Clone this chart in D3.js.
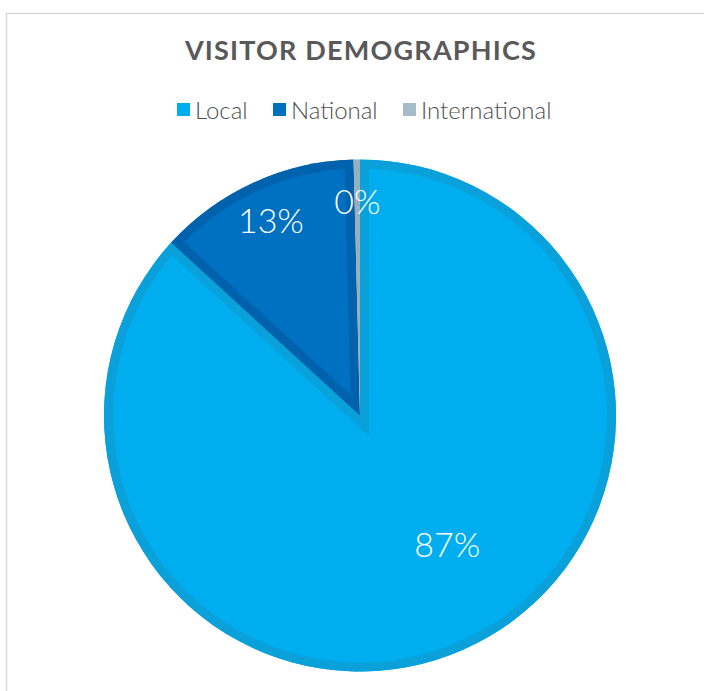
<!DOCTYPE html>
<html>
<head>
<meta charset="utf-8">
<script src="https://cdn.jsdelivr.net/npm/d3@7"></script>
<style>
  html, body { margin: 0; padding: 0; background: #ffffff; }
  svg { display: block; }
</style>
</head>
<body>
<script>
const title = "VISITOR DEMOGRAPHICS";
const categories = ["Local", "National", "International"];
const values = [86.8, 12.8, 0.4];
const labels = ["87%", "13%", "0%"];
const fillColors = ["#00AEEF", "#0070C0", "#A5BDCA"];
const bandColors = ["#0AA0DA", "#0062AC", "#97B0BE"];

const W = 704, H = 691;
const cx = 360, cy = 415.5, R = 256;
const band = 9;

const svg = d3.select("body").append("svg").attr("width", W).attr("height", H);

// chart area border
svg.append("rect")
  .attr("x", 6.5).attr("y", 13.5)
  .attr("width", W + 20).attr("height", H + 20)
  .attr("fill", "#fff").attr("stroke", "#D9D9D9").attr("stroke-width", 1.5);

// title
svg.append("text")
  .attr("x", 361).attr("y", 60)
  .attr("text-anchor", "middle")
  .attr("font-family", "Lato, 'Open Sans', sans-serif")
  .attr("font-weight", 700)
  .attr("font-size", 27)
  .attr("letter-spacing", 1.2)
  .attr("fill", "#595959")
  .text(title);

// legend
const legendX = [177, 273, 403];
const lg = svg.append("g");
categories.forEach((c, i) => {
  lg.append("rect").attr("x", legendX[i]).attr("y", 103).attr("width", 13).attr("height", 13)
    .attr("fill", fillColors[i]);
  lg.append("text").attr("x", legendX[i] + 18).attr("y", 119)
    .attr("font-family", "Lato, 'Open Sans', sans-serif")
    .attr("font-weight", 300)
    .attr("font-size", 24)
    .attr("fill", "#4f4f4f")
    .text(c);
});

// pie
const pie = d3.pie().sort(null).value(d => d)(values);
const arc = d3.arc().innerRadius(0).outerRadius(R);
const g = svg.append("g").attr("transform", `translate(${cx},${cy})`);
const defs = svg.append("defs");

pie.forEach((d, i) => {
  const id = "clip" + i;
  defs.append("clipPath").attr("id", id).append("path").attr("d", arc(d));
  g.append("path").attr("d", arc(d)).attr("fill", fillColors[i]);
  g.append("path").attr("d", arc(d))
    .attr("fill", "none")
    .attr("stroke", bandColors[i])
    .attr("stroke-width", band * 2)
    .attr("stroke-linejoin", "miter")
    .attr("clip-path", `url(#${id})`);
});

// data labels
function labelPos(d) {
  const share = (d.endAngle - d.startAngle) / (2 * Math.PI);
  let a = (d.startAngle + d.endAngle) / 2;
  let r = R * 0.84;
  if (share > 0.5) { a -= 10.5 * Math.PI / 180; r = R * 0.605; }
  return [r * Math.sin(a), -r * Math.cos(a)];
}
pie.forEach((d, i) => {
  const [x, y] = labelPos(d);
  g.append("text")
    .attr("x", x).attr("y", y)
    .attr("text-anchor", "middle")
    .attr("dominant-baseline", "central")
    .attr("font-family", "Lato, 'Open Sans', sans-serif")
    .attr("font-weight", 300)
    .attr("font-size", 34)
    .attr("fill", "#ffffff")
    .text(labels[i]);
});
</script>
</body>
</html>
